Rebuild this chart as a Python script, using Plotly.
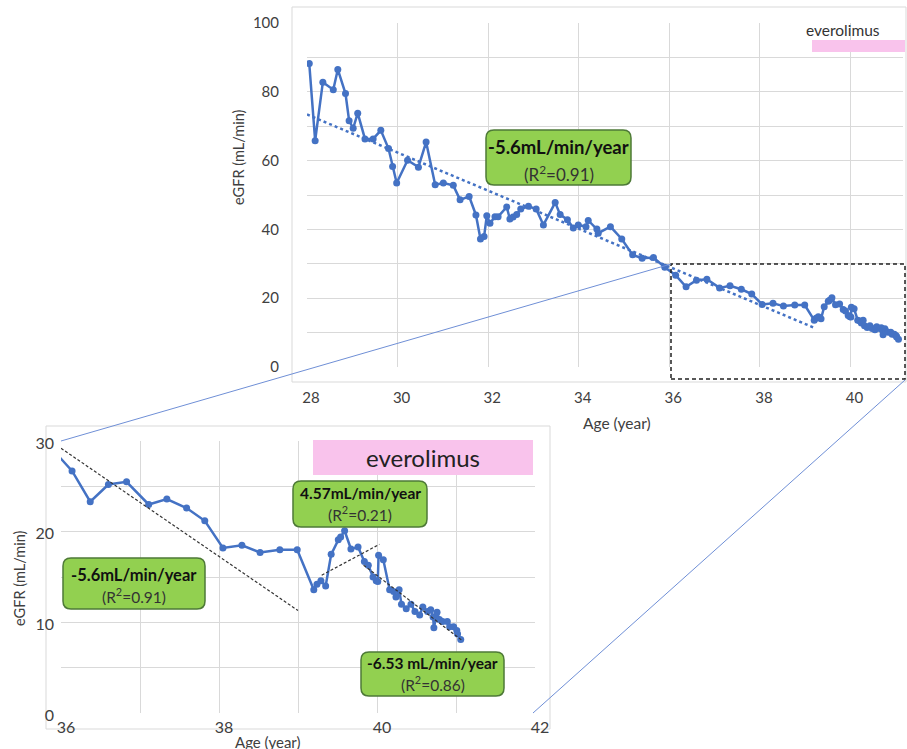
import plotly.graph_objects as go

W, H = 907, 749

# ---- data (age in years, eGFR in mL/min) ----
age = [28.05, 28.18, 28.35, 28.58, 28.68, 28.85, 28.93, 29.02, 29.12, 29.28,
       29.46, 29.63, 29.80, 29.89, 29.98, 30.22, 30.46, 30.63, 30.83, 31.01,
       31.23, 31.38, 31.58, 31.73, 31.83, 31.91, 31.97, 32.04, 32.15, 32.22,
       32.41, 32.48, 32.55, 32.63, 32.72, 32.89, 33.06, 33.22, 33.48, 33.59,
       33.75, 33.88, 33.99, 34.16, 34.21, 34.40, 34.43, 34.70, 34.95, 35.19,
       35.40, 35.65, 35.90,
       36.14, 36.37, 36.60, 36.83, 37.11, 37.34, 37.59, 37.82, 38.05, 38.29,
       38.52, 38.77, 38.99, 39.20, 39.24, 39.29, 39.35, 39.42, 39.51, 39.54,
       39.59, 39.67, 39.76, 39.84, 39.89, 39.95, 39.99, 40.01, 40.02, 40.08,
       40.16, 40.21, 40.24, 40.28, 40.31, 40.37, 40.43, 40.48, 40.54, 40.58,
       40.64, 40.68, 40.71, 40.72, 40.76, 40.79, 40.83, 40.89, 40.92, 40.97,
       41.01, 41.02, 41.06]
egfr = [88.2, 65.8, 82.8, 80.6, 86.5, 79.5, 71.6, 69.4, 73.8, 66.3,
        66.3, 68.8, 63.5, 58.3, 53.5, 60.1, 58.1, 65.4, 53.0, 53.5,
        52.8, 48.6, 49.6, 44.2, 37.2, 37.9, 44.0, 41.8, 43.7, 43.7,
        46.5, 43.0, 43.6, 44.3, 45.9, 46.7, 45.9, 41.3, 47.8, 44.3,
        42.8, 40.4, 41.3, 40.8, 42.6, 40.1, 38.9, 40.8, 37.2, 32.6,
        31.6, 31.8, 29.0,
        26.7, 23.3, 25.2, 25.5, 23.0, 23.6, 22.6, 21.2, 18.2, 18.5,
        17.7, 18.0, 18.0, 13.6, 14.2, 14.6, 14.0, 17.5, 19.1, 19.4,
        20.1, 18.1, 18.3, 16.7, 16.3, 15.0, 14.6, 14.5, 17.4, 16.9,
        13.6, 13.4, 12.8, 13.6, 12.0, 11.5, 12.0, 11.2, 10.8, 11.7,
        11.2, 11.4, 10.6, 9.4, 11.1, 10.3, 10.1, 10.1, 9.5, 9.5,
        9.1, 8.7, 8.1]

# trend lines (end points)
trend_all_x = [28.0, 39.2]
trend_all_y = [73.4, 11.4]
trend1_x = [36.0, 39.0]
trend1_y = [29.2, 11.3]
trend2_x = [39.3, 40.03]
trend2_y = [15.2, 18.6]
trend3_x = [39.83, 41.07]
trend3_y = [16.3, 8.05]

BLUE = "#4472C4"
GRID = "#D9D9D9"
TXT = "#404040"
FONT = "Lato"


def fx(px):
    return px / W


def fy(py):
    return 1 - py / H


fig = go.Figure()

# top chart
fig.add_trace(go.Scatter(x=age, y=egfr, mode="lines+markers",
                         line=dict(color=BLUE, width=2.5),
                         marker=dict(color=BLUE, size=7),
                         xaxis="x", yaxis="y", showlegend=False))
fig.add_trace(go.Scatter(x=trend_all_x, y=trend_all_y, mode="lines",
                         line=dict(color=BLUE, width=2.5, dash="dot"),
                         xaxis="x", yaxis="y", showlegend=False))

# bottom (zoomed) chart
fig.add_trace(go.Scatter(x=age, y=egfr, mode="lines+markers",
                         line=dict(color=BLUE, width=2.5),
                         marker=dict(color=BLUE, size=7),
                         xaxis="x2", yaxis="y2", showlegend=False))
for tx, ty in [(trend1_x, trend1_y), (trend2_x, trend2_y), (trend3_x, trend3_y)]:
    fig.add_trace(go.Scatter(x=tx, y=ty, mode="lines",
                             line=dict(color="#333333", width=1.2, dash="3px,2px"),
                             xaxis="x2", yaxis="y2", showlegend=False))

shapes = []
# chart borders
shapes.append(dict(type="rect", xref="paper", yref="paper", layer="below",
                   x0=fx(292), x1=fx(906), y0=fy(382), y1=fy(7),
                   line=dict(color=GRID, width=1)))
shapes.append(dict(type="rect", xref="paper", yref="paper", layer="below",
                   x0=fx(46), x1=fx(550), y0=fy(729), y1=fy(426),
                   line=dict(color=GRID, width=1)))
# zoom box & connectors
shapes.append(dict(type="rect", xref="paper", yref="paper",
                   x0=fx(671), x1=fx(905), y0=fy(379), y1=fy(264),
                   line=dict(color="#222222", width=1.5, dash="4px,3px")))
shapes.append(dict(type="line", xref="paper", yref="paper",
                   x0=fx(61), y0=fy(441), x1=fx(671), y1=fy(264),
                   line=dict(color="#6F8FD6", width=1)))
shapes.append(dict(type="line", xref="paper", yref="paper",
                   x0=fx(533), y0=fy(713), x1=fx(905), y1=fy(380),
                   line=dict(color="#6F8FD6", width=1)))
# everolimus bars
shapes.append(dict(type="rect", xref="paper", yref="paper",
                   x0=fx(812), x1=fx(905), y0=fy(52), y1=fy(40),
                   fillcolor="#F9C3EC", line=dict(width=0)))
shapes.append(dict(type="rect", xref="paper", yref="paper",
                   x0=fx(313), x1=fx(533), y0=fy(475), y1=fy(440),
                   fillcolor="#F9C3EC", line=dict(width=0)))


def rr(x0, y0, x1, y1, r):
    p = lambda a, b: f"{fx(a):.5f},{fy(b):.5f}"
    return (f"M {p(x0 + r, y0)} L {p(x1 - r, y0)} Q {p(x1, y0)} {p(x1, y0 + r)} "
            f"L {p(x1, y1 - r)} Q {p(x1, y1)} {p(x1 - r, y1)} "
            f"L {p(x0 + r, y1)} Q {p(x0, y1)} {p(x0, y1 - r)} "
            f"L {p(x0, y0 + r)} Q {p(x0, y0)} {p(x0 + r, y0)} Z")


boxes = [
    (486, 130, 631, 185, "-5.6mL/min/year", "(R<sup>2</sup>=0.91)", 147, 173, 18.5, 17),
    (63, 558, 205, 609, "-5.6mL/min/year", "(R<sup>2</sup>=0.91)", 575, 595, 16.5, 15.5),
    (293, 481, 427, 527, "4.57mL/min/year", "(R<sup>2</sup>=0.21)", 493, 513, 15.5, 15.5),
    (361, 652, 504, 696, "-6.53 mL/min/year", "(R<sup>2</sup>=0.86)", 663, 683, 15.5, 15.5),
]
annotations = []
for x0, y0, x1, y1, t1, t2, ly1, ly2, s1, s2 in boxes:
    shapes.append(dict(type="path", xref="paper", yref="paper",
                       path=rr(x0, y0, x1, y1, 8),
                       fillcolor="#92D050", line=dict(color="#4E7A37", width=1.5)))
    cx = (x0 + x1) / 2
    annotations.append(dict(xref="paper", yref="paper", x=fx(cx), y=fy(ly1),
                            text=f"<b>{t1}</b>", showarrow=False,
                            xanchor="center", yanchor="middle",
                            font=dict(family=FONT, size=s1, color="#111111")))
    annotations.append(dict(xref="paper", yref="paper", x=fx(cx), y=fy(ly2),
                            text=t2, showarrow=False,
                            xanchor="center", yanchor="middle",
                            font=dict(family=FONT, size=s2, color="#333333")))

# labels
annotations += [
    dict(xref="paper", yref="paper", x=fx(843), y=fy(30), text="everolimus",
         showarrow=False, xanchor="center", yanchor="middle",
         font=dict(family=FONT, size=15.5, color="#333333")),
    dict(xref="paper", yref="paper", x=fx(423), y=fy(457), text="everolimus",
         showarrow=False, xanchor="center", yanchor="middle",
         font=dict(family=FONT, size=24, color="#222222")),
    dict(xref="paper", yref="paper", x=fx(617), y=fy(423), text="Age (year)",
         showarrow=False, xanchor="center", yanchor="middle",
         font=dict(family=FONT, size=15.5, color=TXT)),
    dict(xref="paper", yref="paper", x=fx(239), y=fy(157), text="eGFR (mL/min)",
         showarrow=False, xanchor="center", yanchor="middle", textangle=-90,
         font=dict(family=FONT, size=14.5, color=TXT)),
    dict(xref="paper", yref="paper", x=fx(268), y=fy(742), text="Age (year)",
         showarrow=False, xanchor="center", yanchor="middle",
         font=dict(family=FONT, size=15, color=TXT)),
    dict(xref="paper", yref="paper", x=fx(19), y=fy(578), text="eGFR (mL/min)",
         showarrow=False, xanchor="center", yanchor="middle", textangle=-90,
         font=dict(family=FONT, size=14.5, color=TXT)),
]

axis_common = dict(showline=False, zeroline=False, ticks="", automargin=False,
                   gridcolor=GRID, gridwidth=1, fixedrange=True)

fig.update_layout(
    template="none",
    width=W, height=H,
    margin=dict(l=0, r=0, t=0, b=0, pad=0),
    paper_bgcolor="white", plot_bgcolor="white",
    font=dict(family=FONT, color=TXT),
    xaxis=dict(domain=[fx(307), fx(903)], range=[28, 41.16], dtick=2, tick0=28,
               anchor="y", tickfont=dict(size=15, color=TXT),
               ticklabelstandoff=20, ticklabelshift=4, showgrid=True, **axis_common),
    yaxis=dict(domain=[fy(367), fy(23)], range=[0, 100], dtick=20, tick0=0,
               anchor="x", tickfont=dict(size=15, color=TXT),
               ticklabelstandoff=27, showgrid=True,
               minor=dict(dtick=10, showgrid=True, gridcolor=GRID, ticks=""),
               **axis_common),
    xaxis2=dict(domain=[fx(61), fx(535)], range=[36, 42], dtick=2, tick0=36,
                anchor="y2", tickfont=dict(size=16, color=TXT),
                ticklabelstandoff=3, ticklabelshift=5, showgrid=True,
                minor=dict(dtick=1, showgrid=True, gridcolor=GRID, ticks=""),
                **axis_common),
    yaxis2=dict(domain=[fy(713), fy(441)], range=[0, 30], dtick=10, tick0=0,
                anchor="x2", tickfont=dict(size=16, color=TXT),
                ticklabelstandoff=6, ticklabelshift=2, showgrid=True,
                minor=dict(dtick=5, showgrid=True, gridcolor=GRID, ticks=""),
                **axis_common),
    shapes=shapes,
    annotations=annotations,
)

fig.write_html("out.html",
               config={"displayModeBar": False, "staticPlot": True},
               post_script="document.body.style.margin='0';"
                           "document.body.style.overflow='hidden';")
